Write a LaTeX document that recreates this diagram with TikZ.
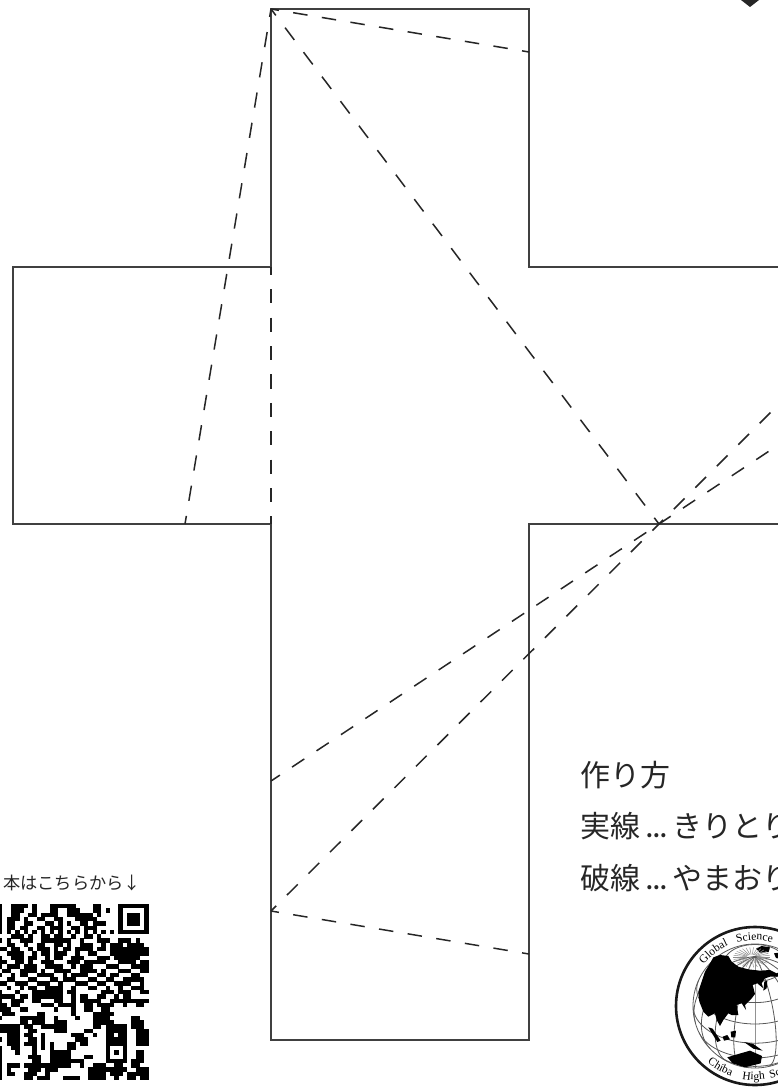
\documentclass[tikz,border=0pt]{standalone}
\usepackage{fontspec}
\newfontfamily\jpfont{Noto Sans CJK JP}
\newfontfamily\globefont{Liberation Serif}
\usetikzlibrary{decorations.text}
\tikzset{
  cutline/.style={draw=black!75, line width=1.5pt},
  foldline/.style 2 args={draw=black!85, line width=1.5pt, dash pattern=on #1pt off #1pt, dash phase=#2pt},
  howto/.style={anchor=west, inner sep=0pt, text=black!85, font=\jpfont\fontsize{30}{30}\selectfont},
  gridline/.style={draw=black!65, line width=0.8pt},
  emblemword/.style={decorate,decoration={text along path,text={|\globefont\fontsize{11.5}{12}\selectfont|#1}}},
}
% one row of the code, read cell by cell
\newcount\qrcol
\def\qrcell#1{\ifx#1.\else
  \ifnum#1=1 \fill (-2+4.3*\the\qrcol,904+4.3*\qrrow) rectangle ++(4.4,4.4);\fi
  \advance\qrcol by 1 \expandafter\qrcell\fi}
\begin{document}
\begin{tikzpicture}[x=1pt,y=-1pt]
\useasboundingbox (0,0) rectangle (778,1091);
\clip (0,0) rectangle (778,1091);
\fill[white] (0,0) rectangle (778,1091);
% the net
\draw[cutline] (271,267) -- (271,9) -- (529,9) -- (529,267) -- (800,267);
\draw[cutline] (800,524) -- (529,524) -- (529,1040) -- (271,1040) -- (271,524) -- (13,524) -- (13,267) -- (271,267);
\draw[foldline={14.5}{6.5}] (271,9) -- (529,52);
\draw[foldline={15.34}{7.3}] (271,9) -- (659,524);
\draw[foldline={15.33}{7.3}] (271,9) -- (185,524);
\draw[foldline={14.2}{6.2}] (271,267) -- (271,524);
\draw[foldline={14.65}{4}] (271,781) -- (659,524) -- (800,430.6);
\draw[foldline={15.18}{7.8}] (271,911) -- (659,524) -- (800,383);
\draw[foldline={14.5}{6.5}] (271,911) -- (529,954);
\fill[black!85] (741,0) -- (759,0) -- (750,7) -- cycle;
% text
\node[howto] (title) at (580,775) {作り方};
\node[howto] (solid) at (580,826) {実線 {\fontsize{19}{22}\bfseries ...}\kern-3pt{} きりとり};
\node[howto] (dashed) at (580,878) {破線 {\fontsize{19}{22}\bfseries ...}\kern-3pt{} やまおり};
\node[anchor=west, inner sep=0pt, text=black!85, font=\jpfont\fontsize{17.2}{18}\selectfont] (caption) at (3,883) {本はこちらから↓};
% code
\foreach \qrrow/\qrbits in {
0/10011110100011111100001100001111111,
1/10011100100011001110001101001000001,
2/10011001101111001111110100001011101,
3/10111010011001100011111000001011101,
4/10110011000110101001101110001011101,
5/10110110011011100110111000001000001,
6/10101010101010101010101010101111111,
7/00011101001101100100110100000000000,
8/10100111001111111001000111001110100,
9/00110010011001101001110010111011110,
10/11011001011101011011110110111111111,
11/00111100101101110010011000111111111,
12/10011101100101100111000111011111100,
13/11001101001110001110111110001111011,
14/10111011100111100101110001110001111,
15/01100111101001111001111010001110011,
16/10010110011110010111100110110001100,
17/00110001100011011100011001100111110,
18/11001110011100100011100110011110010,
19/00100101100111100100011001001001110,
20/10001000111111101100000011101110011,
21/11110110111111100101100110010110000,
22/10011100110001100101111100111111111,
23/11011000001110111100110111100100110,
24/11100110000001000100110011000000000,
25/01110000011000000100001111100000000,
26/10000111111001000010001111000001100,
27/00000110111001110000001111100001110,
28/11111011001111110000001101111101110,
29/11111001100001110000110001111100111,
30/00111011001000000111001001101100111,
31/10111001101000000011100001111100111,
32/00111011101010001101100001111100111,
33/10011000101010001100000001000100000,
34/10001000100011111000000001010100110,
35/10000001110011111000110001000100110,
36/10000000110011111111000001111101110,
37/10111011111111111001001110011001100,
38/10100001110111000000011111111100111,
39/10110011100100000000011110111011111,
40/10000011011100011110011110010011011}
  {\qrcol=0 \expandafter\qrcell\qrbits.}
% emblem
\begin{scope}[shift={(755,1006)},x=1pt,y=1pt]
  \draw[line width=2.6pt, black!90] (0,0) circle (79);
  \path[emblemword=Global] (141:66) arc[start angle=141,end angle=100,radius=66];
  \path[emblemword=Science] (106:66) arc[start angle=106,end angle=60,radius=66];
  \path[emblemword=Chiba] (230:74) arc[start angle=230,end angle=262,radius=74];
  \path[emblemword=High] (260:74) arc[start angle=260,end angle=285,radius=74];
  \path[emblemword=School] (282:74) arc[start angle=282,end angle=330,radius=74];
\end{scope}
\begin{scope}[shift={(670,920)},x=0.3333pt,y=-0.3333pt]
  \begin{scope}
    \clip (255,258) circle (186);
    \foreach \lon in {-80,-60,...,80}
      \draw[gridline] plot[smooth,domain={atan(-cos(\lon)*1.327)}:90,samples=16,variable=\lat]
        ({255+186*cos(\lat)*sin(\lon)},{258-186*(0.8*sin(\lat)-0.6*cos(\lat)*cos(\lon))});
    \foreach \lat in {-40,-20,0,20,40,60}
      \draw[gridline] plot[smooth,domain={-acos(max(-1,min(1,-tan(\lat)*0.753)))}:{acos(max(-1,min(1,-tan(\lat)*0.753)))},samples=30,variable=\lon]
        ({255+186*cos(\lat)*sin(\lon)},{258-186*(0.8*sin(\lat)-0.6*cos(\lat)*cos(\lon))});
  \end{scope}
  \draw[gridline] (255,258) circle (186);
  \fill[black] (130,112) -- (150,105) -- (175,108) -- (185,125) -- (205,140) -- (235,148) -- (270,152) -- (300,150) -- (320,160) -- (340,150) -- (340,170) -- (300,170) -- (285,175) -- (275,190) -- (280,205) -- (262,190) -- (248,195) -- (255,222) -- (245,235) -- (225,255) -- (228,270) -- (215,250) -- (200,255) -- (205,285) -- (185,285) -- (175,280) -- (160,300) -- (150,318) -- (140,300) -- (135,280) -- (115,290) -- (100,275) -- (88,245) -- (85,215) -- (95,185) -- (105,155) -- (120,130) -- cycle;
  \fill[black] (258,86) -- (275,78) -- (300,82) -- (296,96) -- (270,98) -- cycle;
  \fill[black] (312,100) -- (340,96) -- (340,118) -- (318,114) -- cycle;
  \fill[black] (283,185) -- (292,182) -- (290,205) -- (280,212) -- cycle;
  \fill[black] (115,322) -- (128,326) -- (152,362) -- (142,366) -- cycle;
  \fill[black] (158,350) -- (172,345) -- (180,358) -- (162,362) -- cycle;
  \fill[black] (182,335) -- (198,332) -- (196,352) -- (184,352) -- cycle;
  \fill[black] (222,366) -- (250,372) -- (278,392) -- (250,386) -- cycle;
  \fill[black] (172,412) -- (205,402) -- (240,392) -- (276,408) -- (272,430) -- (225,442) -- (188,430) -- cycle;
  \foreach \ang in {0,12,...,348}
    \draw[black!45, line width=0.5pt] ({245+15*cos(\ang)},{112+8*sin(\ang)}) -- ({245+55*cos(\ang)},{112+30*sin(\ang)});
\end{scope}
\end{tikzpicture}
\end{document}
